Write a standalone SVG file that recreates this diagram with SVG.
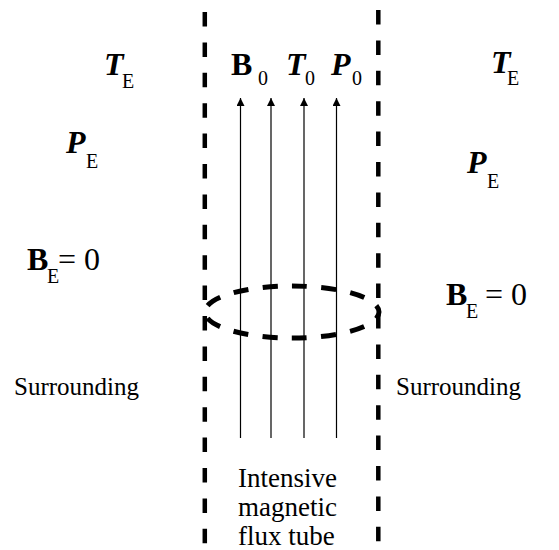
<svg xmlns="http://www.w3.org/2000/svg" width="559" height="550" viewBox="0 0 559 550">
<defs>
<style>
.txt{font-family:"Liberation Serif","Times New Roman",serif;fill:#000}
.big{font-size:32px}
.sub{font-size:20px}
.b{font-weight:bold}
.bi{font-weight:bold;font-style:italic}
.lbl{font-size:25px}
.tl{font-size:27px}
.wall{stroke:#000;stroke-width:4.5;stroke-dasharray:14.5 15.9;fill:none}
.field{stroke:#000;stroke-width:1.2;fill:none}
</style>
<marker id="ah" markerUnits="userSpaceOnUse" markerWidth="9" markerHeight="8" refX="8" refY="4" viewBox="0 0 8 8" orient="auto">
<path d="M0,0 L8,4 L0,8 Z" fill="#000"/>
</marker>
</defs>
<rect width="559" height="550" fill="#fff"/>
<g id="connectors">
<line class="field" x1="240.5" y1="438" x2="240.5" y2="98" marker-end="url(#ah)"/>
<line class="field" x1="271" y1="438" x2="271" y2="98" marker-end="url(#ah)"/>
<line class="field" x1="304" y1="438" x2="304" y2="98" marker-end="url(#ah)"/>
<line class="field" x1="336.5" y1="438" x2="336.5" y2="98" marker-end="url(#ah)"/>
</g>
<g id="tube-walls">
<line class="wall" x1="204.8" y1="12" x2="204.8" y2="550"/>
<line class="wall" x1="378.3" y1="10" x2="378.3" y2="550"/>
</g>
<g id="cross-section">
<ellipse cx="292" cy="312" rx="87" ry="26" fill="none" stroke="#000" stroke-width="5" stroke-dasharray="15 14.3" stroke-dashoffset="7.5"/>
</g>
<g id="tube-params">
<text class="txt big b" x="231" y="75">B</text><text class="txt sub" x="258" y="85">0</text>
<text class="txt big bi" x="286" y="75">T</text><text class="txt sub" x="305" y="85">0</text>
<text class="txt big bi" x="331" y="75">P</text><text class="txt sub" x="352" y="85">0</text>
</g>
<g id="left-params">
<text class="txt big bi" x="104" y="75">T</text><text class="txt sub" x="122" y="88">E</text>
<text class="txt big bi" x="66" y="153">P</text><text class="txt sub" x="86" y="168">E</text>
<text class="txt big b" x="27" y="270">B</text><text class="txt sub" x="47" y="283">E</text><text class="txt big" x="58" y="270">= 0</text>
</g>
<g id="right-params">
<text class="txt big bi" x="491" y="73">T</text><text class="txt sub" x="507" y="85">E</text>
<text class="txt big bi" x="467" y="173">P</text><text class="txt sub" x="487" y="188">E</text>
<text class="txt big b" x="446" y="305">B</text><text class="txt sub" x="466" y="318">E</text><text class="txt big" x="485" y="305">= 0</text>
</g>
<g id="left-surrounding">
<text class="txt lbl" x="14" y="395">Surrounding</text>
</g>
<g id="right-surrounding">
<text class="txt lbl" x="396" y="395">Surrounding</text>
</g>
<g id="tube-label">
<text class="txt tl" x="238" y="487">Intensive</text>
<text class="txt tl" x="238" y="516">magnetic</text>
<text class="txt tl" x="238" y="545">flux tube</text>
</g>
</svg>
